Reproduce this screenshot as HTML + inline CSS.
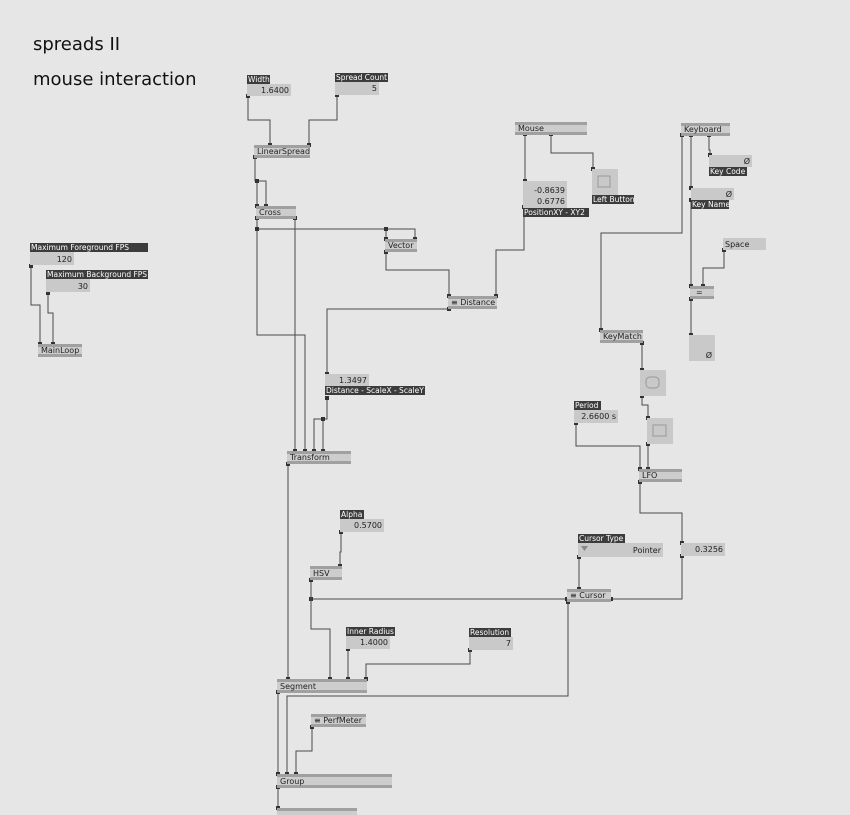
<!DOCTYPE html>
<html><head><meta charset="utf-8"><style>
html,body{margin:0;padding:0;background:#e6e6e6;}
svg{display:block;font-family:"DejaVu Sans","Liberation Sans",sans-serif;}
.n{fill:#cdcdcd;}
.b{fill:#a0a0a0;}
.l{fill:#3c3c3c;}
.v{fill:#c9c9c9;}
.t{font-size:8px;fill:#222;}
.w{font-size:7.5px;fill:#fff;}
.ln path{stroke:#4a4a4a;stroke-width:1;fill:none;marker-start:url(#p);marker-end:url(#p);}
</style></head><body>
<svg width="850" height="815" viewBox="0 0 850 815">
<defs><marker id="p" viewBox="0 0 4 4" refX="2" refY="2" markerWidth="4" markerHeight="4" markerUnits="userSpaceOnUse"><rect width="4" height="4" fill="#333"/></marker></defs>
<rect width="850" height="815" fill="#e6e6e6"/>
<text x="33" y="50" font-size="18" fill="#111">spreads II</text>
<text x="33" y="85" font-size="18" fill="#111">mouse interaction</text>

<g class="ln">
<path d="M248 96V120H270V145"/><path d="M337 95V120H309V145"/>
<path d="M255 157V181H257V206"/><path d="M257 181H266V206"/>
<path d="M295 218V451"/><path d="M257 218V335H305V451"/>
<path d="M257 229H415V239"/><path d="M386 229V239"/>
<path d="M386 252V270H449V296"/><path d="M524 207V250H496V296"/>
<path d="M449 309H327V374"/><path d="M327 398V419H314V451"/><path d="M323 419V451"/>
<path d="M288 464V679"/>
<path d="M525 134V181"/><path d="M551 134V153H593V169"/>
<path d="M682 135V233H601V330"/><path d="M691 135V188"/><path d="M691 200V286"/><path d="M709 135V150H710V155"/>
<path d="M724 250V268H703V286"/><path d="M691 299V335"/>
<path d="M642 343V370"/><path d="M642 396V405H648V418"/><path d="M648 444V469"/><path d="M576 423V446H640V469"/>
<path d="M640 482V513H682V543"/><path d="M682 556V599H611"/><path d="M567 599H311"/><path d="M311 580V629H330V679"/>
<path d="M341 532V552H340V566"/><path d="M579 557V589"/>
<path d="M568 602V696H287V774"/><path d="M348 649V679"/><path d="M470 650V664H366V679"/>
<path d="M278 692V774"/><path d="M312 727V751H296V774"/><path d="M278 787V808"/>
<path d="M31 266V305H40V344"/><path d="M48 293V313H53V344"/>
</g>

<g>
<rect class="l" x="247" y="75" width="23" height="9"/><text class="w" x="248" y="82">Width</text>
<rect class="v" x="247" y="84" width="44" height="12"/><text class="t" x="289" y="93" text-anchor="end">1.6400</text>
<rect class="l" x="335" y="73" width="53" height="9"/><text class="w" x="336" y="80">Spread Count</text>
<rect class="v" x="335" y="82" width="44" height="13"/><text class="t" x="377" y="91" text-anchor="end">5</text>

<rect class="v" x="523" y="181" width="44" height="27"/>
<text class="t" x="565" y="193" text-anchor="end">-0.8639</text><text class="t" x="565" y="204" text-anchor="end">0.6776</text>
<rect class="l" x="523" y="208" width="66" height="9"/><text class="w" x="524" y="215">PositionXY - XY2</text>

<rect class="v" x="592" y="169" width="26" height="26"/><rect x="598" y="176" width="12" height="11" fill="none" stroke="#999"/>
<rect class="l" x="592" y="195" width="42" height="9"/><text class="w" x="593" y="202">Left Button</text>

<rect class="v" x="709" y="155" width="43" height="12"/><text class="t" x="750" y="164" text-anchor="end">Ø</text>
<rect class="l" x="709" y="167" width="38" height="9"/><text class="w" x="710" y="174">Key Code</text>
<rect class="v" x="691" y="188" width="43" height="12"/><text class="t" x="732" y="197" text-anchor="end">Ø</text>
<rect class="l" x="691" y="200" width="38" height="9"/><text class="w" x="692" y="207">Key Name</text>
<rect class="v" x="723" y="238" width="43" height="12"/><text class="t" x="725" y="247">Space</text>
<rect class="v" x="689" y="335" width="26" height="26"/><text class="t" x="712" y="358" text-anchor="end">Ø</text>

<rect class="v" x="640" y="370" width="26" height="26"/><rect x="646" y="377" width="13" height="11" rx="4" fill="none" stroke="#999"/>
<rect class="v" x="647" y="418" width="26" height="26"/><rect x="653" y="425" width="13" height="11" fill="none" stroke="#999"/>
<rect class="l" x="574" y="401" width="27" height="9"/><text class="w" x="575" y="408">Period</text>
<rect class="v" x="574" y="410" width="44" height="13"/><text class="t" x="616" y="419" text-anchor="end">2.6600 s</text>

<rect class="v" x="681" y="543" width="44" height="13"/><text class="t" x="723" y="552" text-anchor="end">0.3256</text>
<rect class="l" x="578" y="534" width="47" height="9"/><text class="w" x="579" y="541">Cursor Type</text>
<rect class="v" x="578" y="543" width="85" height="14"/><path d="M581 546h7l-3.5 5z" fill="#888"/><text class="t" x="661" y="553" text-anchor="end">Pointer</text>

<rect class="l" x="340" y="510" width="24" height="9"/><text class="w" x="341" y="517">Alpha</text>
<rect class="v" x="340" y="519" width="44" height="13"/><text class="t" x="382" y="528" text-anchor="end">0.5700</text>
<rect class="l" x="346" y="627" width="49" height="9"/><text class="w" x="347" y="634">Inner Radius</text>
<rect class="v" x="346" y="636" width="44" height="13"/><text class="t" x="388" y="645" text-anchor="end">1.4000</text>
<rect class="l" x="469" y="628" width="42" height="9"/><text class="w" x="470" y="635">Resolution</text>
<rect class="v" x="469" y="637" width="44" height="13"/><text class="t" x="511" y="646" text-anchor="end">7</text>

<rect class="v" x="325" y="374" width="44" height="12"/><text class="t" x="367" y="383" text-anchor="end">1.3497</text>
<rect class="l" x="325" y="386" width="100" height="9"/><text class="w" x="326" y="393">Distance - ScaleX - ScaleY</text>

<rect class="l" x="30" y="243" width="118" height="9"/><text class="w" x="31" y="250">Maximum Foreground FPS</text>
<rect class="v" x="30" y="252" width="44" height="13"/><text class="t" x="72" y="262" text-anchor="end">120</text>
<rect class="l" x="46" y="270" width="102" height="9"/><text class="w" x="47" y="277">Maximum Background FPS</text>
<rect class="v" x="46" y="279" width="44" height="13"/><text class="t" x="88" y="289" text-anchor="end">30</text>
</g>

<g>
<g transform="translate(254,145)"><rect class="n" width="56" height="13"/><rect class="b" width="56" height="3"/><rect class="b" y="10" width="56" height="3"/><text class="t" x="3" y="9">LinearSpread</text></g>
<g transform="translate(256,206)"><rect class="n" width="40" height="13"/><rect class="b" width="40" height="3"/><rect class="b" y="10" width="40" height="3"/><text class="t" x="3" y="9">Cross</text></g>
<g transform="translate(385,239)"><rect class="n" width="32" height="13"/><rect class="b" width="32" height="3"/><rect class="b" y="10" width="32" height="3"/><text class="t" x="3" y="9">Vector</text></g>
<g transform="translate(448,296)"><rect class="n" width="49" height="13"/><rect class="b" width="49" height="3"/><rect class="b" y="10" width="49" height="3"/><text class="t" x="3" y="9">≡ Distance</text></g>
<g transform="translate(515,122)"><rect class="n" width="72" height="13"/><rect class="b" width="72" height="3"/><rect class="b" y="10" width="72" height="3"/><text class="t" x="3" y="9">Mouse</text></g>
<g transform="translate(681,123)"><rect class="n" width="49" height="13"/><rect class="b" width="49" height="3"/><rect class="b" y="10" width="49" height="3"/><text class="t" x="3" y="9">Keyboard</text></g>
<g transform="translate(690,286)"><rect class="n" width="24" height="13"/><rect class="b" width="24" height="3"/><rect class="b" y="10" width="24" height="3"/><text class="t" x="6" y="9">=</text></g>
<g transform="translate(600,330)"><rect class="n" width="43" height="13"/><rect class="b" width="43" height="3"/><rect class="b" y="10" width="43" height="3"/><text class="t" x="3" y="9">KeyMatch</text></g>
<g transform="translate(639,469)"><rect class="n" width="43" height="13"/><rect class="b" width="43" height="3"/><rect class="b" y="10" width="43" height="3"/><text class="t" x="3" y="9">LFO</text></g>
<g transform="translate(567,589)"><rect class="n" width="44" height="13"/><rect class="b" width="44" height="3"/><rect class="b" y="10" width="44" height="3"/><text class="t" x="3" y="9">≡ Cursor</text></g>
<g transform="translate(310,566)"><rect class="n" width="32" height="14"/><rect class="b" width="32" height="3"/><rect class="b" y="11" width="32" height="3"/><text class="t" x="3" y="10">HSV</text></g>
<g transform="translate(287,451)"><rect class="n" width="64" height="13"/><rect class="b" width="64" height="3"/><rect class="b" y="10" width="64" height="3"/><text class="t" x="3" y="9">Transform</text></g>
<g transform="translate(277,679)"><rect class="n" width="90" height="14"/><rect class="b" width="90" height="3"/><rect class="b" y="11" width="90" height="3"/><text class="t" x="3" y="10">Segment</text></g>
<g transform="translate(311,714)"><rect class="n" width="55" height="13"/><rect class="b" width="55" height="3"/><rect class="b" y="10" width="55" height="3"/><text class="t" x="3" y="9">≡ PerfMeter</text></g>
<g transform="translate(277,774)"><rect class="n" width="115" height="14"/><rect class="b" width="115" height="3"/><rect class="b" y="11" width="115" height="3"/><text class="t" x="3" y="10">Group</text></g>
<g transform="translate(277,808)"><rect class="n" width="80" height="7"/><rect class="b" width="80" height="3"/></g>
<g transform="translate(38,344)"><rect class="n" width="44" height="13"/><rect class="b" width="44" height="3"/><rect class="b" y="10" width="44" height="3"/><text class="t" x="3" y="9">MainLoop</text></g>
</g>
</svg>
</body></html>
